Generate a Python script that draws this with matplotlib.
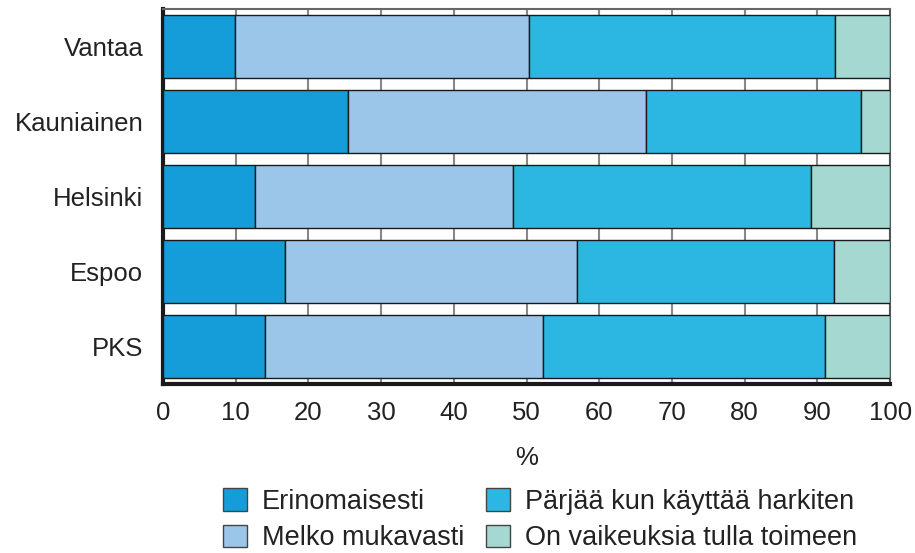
import numpy as np
import matplotlib
matplotlib.use("Agg")
from matplotlib import pyplot as plt

plt.rcParams['font.family'] = ['Liberation Sans', 'DejaVu Sans']

# kunnat alhaalta ylos (PKS alimpana)
areas = ['PKS', 'Espoo', 'Helsinki', 'Kauniainen', 'Vantaa']
erinomaisesti = [14.1, 16.8, 12.6, 25.5, 9.9]
melko_mukavasti = [38.2, 40.1, 35.5, 40.9, 40.4]
harkiten = [38.8, 35.4, 41.0, 29.6, 42.1]
vaikeuksia = [8.9, 7.7, 10.9, 4.0, 7.6]

labels = ['Erinomaisesti', 'Melko mukavasti',
          'Pärjää kun käyttää harkiten', 'On vaikeuksia tulla toimeen']
colors = ['#149dd8', '#9cc6e9', '#2cb7e2', '#a4d8d0']

fs = 18.5

fig = plt.figure(figsize=(9.15, 5.53), dpi=100)
ax = fig.add_axes([0.178, 0.3056, 0.7949, 0.678])

y = np.arange(len(areas))
left = np.zeros(len(areas))
handles = []
for vals, lab, col in zip([erinomaisesti, melko_mukavasti, harkiten, vaikeuksia], labels, colors):
    b = ax.barh(y, vals, left=left, height=0.83, color=col,
                edgecolor='#1a1a1a', linewidth=1.0, label=lab, zorder=3)
    handles.append(b)
    left = left + np.array(vals)

ax.set_xlim(0, 100)
ax.set_ylim(-0.5, len(areas) - 0.5)
ax.set_xticks(range(0, 101, 10))
ax.set_yticks(y)
ax.set_yticklabels(areas)
ax.xaxis.grid(True, color='#888888', linewidth=1.5, zorder=0)
ax.set_axisbelow(True)
ax.tick_params(axis='both', length=0, labelsize=fs, colors='#222222')
ax.tick_params(axis='y', pad=14)
ax.tick_params(axis='x', pad=12)
ax.set_xlabel('%', fontsize=fs, color='#222222', labelpad=15)

ax.spines['left'].set_linewidth(3)
ax.spines['bottom'].set_linewidth(3)
ax.spines['left'].set_color('#1a1a1a')
ax.spines['bottom'].set_color('#1a1a1a')
ax.spines['top'].set_color('#666666')
ax.spines['top'].set_linewidth(1.5)
ax.spines['right'].set_color('#555555')
ax.spines['right'].set_linewidth(1.5)

leg = fig.legend(handles=handles, labels=labels, ncol=2, loc='center',
                 bbox_to_anchor=(540 / 915, 0.06), frameon=False, fontsize=19.5,
                 handlelength=0.89, handleheight=0.89, handletextpad=0.55,
                 columnspacing=0.78, labelspacing=0.37, borderpad=0)
for t in leg.get_texts():
    t.set_color('#222222')
for p in leg.get_patches():
    p.set_edgecolor('#444444')

fig.savefig('out.png', dpi=100)
